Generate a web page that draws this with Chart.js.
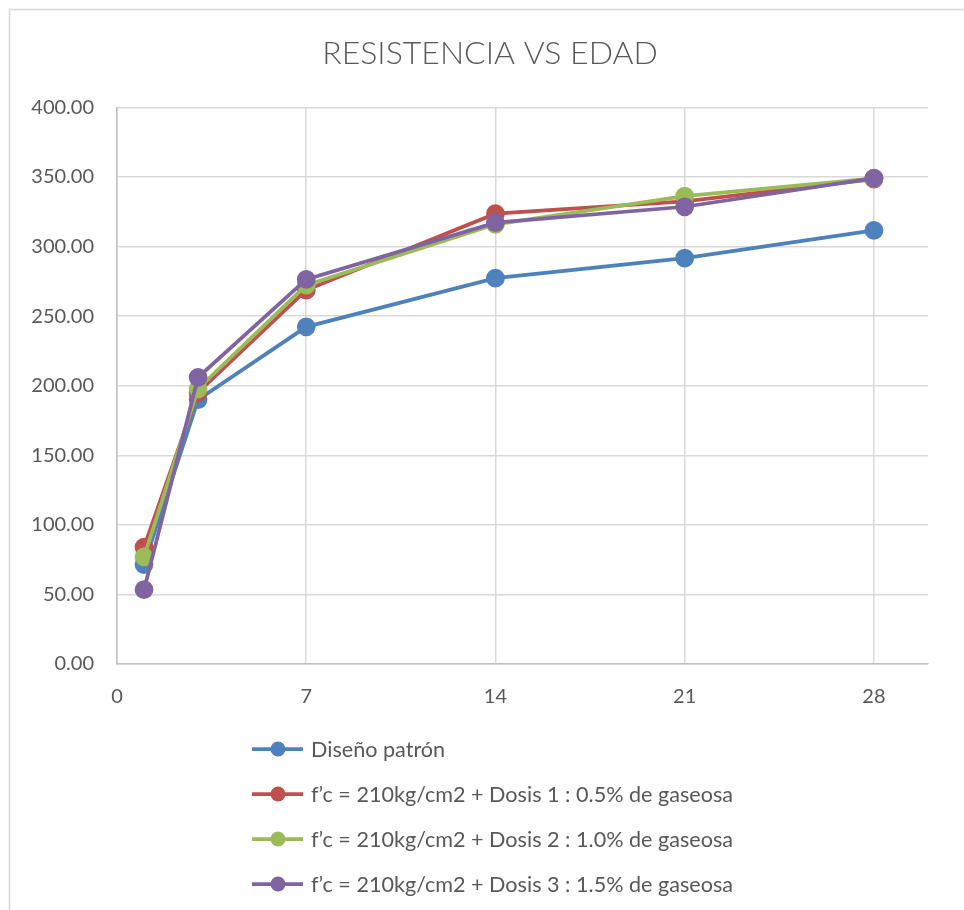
<!DOCTYPE html>
<html>
<head>
<meta charset="utf-8">
<script src="https://cdn.jsdelivr.net/npm/chart.js@4.4.0/dist/chart.umd.min.js"></script>
<style>
  html, body { margin: 0; padding: 0; background: #ffffff; }
  #wrap { position: relative; width: 964px; height: 910px; }
</style>
</head>
<body>
<div id="wrap"><canvas id="c" width="964" height="910"></canvas></div>
<script>
// ---- data ----
const ages = [1, 3, 7, 14, 21, 28];
const xTicks = [0, 7, 14, 21, 28];
const yTicks = [0, 50, 100, 150, 200, 250, 300, 350, 400];
const seriesNames = [
  'Diseño patrón',
  'f’c = 210kg/cm2 + Dosis 1 : 0.5% de gaseosa',
  'f’c = 210kg/cm2 + Dosis 2 : 1.0% de gaseosa',
  'f’c = 210kg/cm2 + Dosis 3 : 1.5% de gaseosa'
];
const patron = [71.5, 190.0, 242.3, 277.3, 291.7, 311.6];
const dosis1 = [84.0, 195.2, 268.7, 323.6, 332.4, 348.5];
const dosis2 = [77.0, 197.8, 272.2, 316.0, 336.2, 349.0];
const dosis3 = [53.4, 206.0, 276.4, 317.2, 328.6, 349.2];
const seriesValues = [patron, dosis1, dosis2, dosis3];
const seriesColors = ['#4F81BD', '#C0504D', '#9BBB59', '#8064A2'];

const FONT = 'Lato, "Open Sans", sans-serif';
const TXT = '#595959';

const datasets = seriesNames.map((name, i) => ({
  label: name,
  data: ages.map((a, j) => ({ x: a, y: seriesValues[i][j] })),
  borderColor: seriesColors[i],
  backgroundColor: seriesColors[i],
  pointBackgroundColor: seriesColors[i],
  pointBorderColor: seriesColors[i],
  borderWidth: 3.75,
  pointRadius: 7.5,
  pointHoverRadius: 7.5,
  tension: 0,
  order: seriesNames.length - i
}));

const frame = {
  id: 'frame',
  afterLayout(chart) {
    // centre the title the way the original chart does (slightly right of canvas centre)
    const t = chart.titleBlock;
    if (t) { t.left = 52; t.right = 928; }
  },
  beforeDraw(chart) {
    const ctx = chart.ctx;
    ctx.save();
    ctx.fillStyle = '#ffffff';
    ctx.fillRect(0, 0, chart.width, chart.height);
    ctx.strokeStyle = '#d9d9d9';
    ctx.lineWidth = 1.5;
    ctx.strokeRect(9.5, 9.5, chart.width + 20, chart.height + 20);
    ctx.restore();
  }
};

const customLegend = {
  id: 'customLegend',
  afterDraw(chart) {
    const ctx = chart.ctx;
    ctx.save();
    chart.data.datasets.forEach((ds, i) => {
      const y = 749 + i * 45;
      ctx.strokeStyle = ds.borderColor;
      ctx.lineWidth = 3.75;
      ctx.beginPath();
      ctx.moveTo(252, y);
      ctx.lineTo(303, y);
      ctx.stroke();
      ctx.fillStyle = ds.borderColor;
      ctx.beginPath();
      ctx.arc(278, y, 7.5, 0, Math.PI * 2);
      ctx.fill();
      ctx.fillStyle = TXT;
      ctx.font = '21.6px ' + FONT;
      ctx.textBaseline = 'middle';
      ctx.textAlign = 'left';
      ctx.fillText(ds.label, 311, y + 1);
    });
    ctx.restore();
  }
};

new Chart(document.getElementById('c'), {
  type: 'line',
  data: { datasets },
  plugins: [frame, customLegend],
  options: {
    responsive: false,
    animation: false,
    layout: { padding: { left: 0, right: 36, top: 0, bottom: 0 } },
    plugins: {
      legend: { display: false },
      tooltip: { enabled: false },
      title: {
        display: true,
        text: 'RESISTENCIA VS EDAD',
        color: TXT,
        font: { family: FONT, size: 32, weight: '300' },
        padding: { top: 34, bottom: 35 }
      }
    },
    scales: {
      x: {
        type: 'linear',
        min: 0,
        max: 30,
        afterBuildTicks(s) { s.ticks = xTicks.map(v => ({ value: v })); },
        afterFit(s) { s.height = 910 - 664; },
        grid: { color: '#d9d9d9', lineWidth: 1.5, drawTicks: false },
        border: { color: '#bfbfbf', width: 1.5 },
        ticks: {
          color: TXT,
          font: { family: FONT, size: 20 },
          padding: 21,
          maxRotation: 0
        }
      },
      y: {
        min: 0,
        max: 400,
        afterBuildTicks(s) { s.ticks = yTicks.map(v => ({ value: v })); },
        afterFit(s) { s.width = 117; },
        grid: { color: '#d9d9d9', lineWidth: 1.5, drawTicks: false },
        border: { color: '#bfbfbf', width: 1.5 },
        ticks: {
          color: TXT,
          font: { family: FONT, size: 20 },
          padding: 23,
          callback: v => Number(v).toFixed(2)
        }
      }
    }
  }
});
</script>
</body>
</html>
